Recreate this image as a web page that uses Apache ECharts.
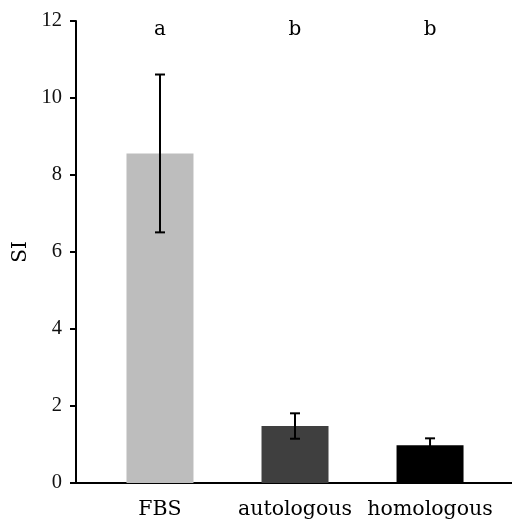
<!DOCTYPE html>
<html><head><meta charset="utf-8">
<script src="https://cdn.jsdelivr.net/npm/echarts@6/dist/echarts.min.js"></script>
<style>html,body{margin:0;padding:0;background:#fff}#c{width:512px;height:522px}</style>
</head><body><div id="c"></div>
<script>
var categories = ['FBS', 'autologous', 'homologous'];
var means = [8.56, 1.48, 0.98];
var errors = [2.05, 0.33, 0.18];
var letters = ['a', 'b', 'b'];
var letterY = 11.77;
var colors = ['#bdbdbd', '#3f3f3f', '#000000'];
var yTicks = [0, 2, 4, 6, 8, 10, 12];

var FONT = '"DejaVu Serif", "Liberation Serif", serif';
var NUMFONT = '"Liberation Serif", "DejaVu Serif", serif';
var chart = echarts.init(document.getElementById('c'));
var barData = categories.map(function (c, i) {
  return { value: [i, means[i]], itemStyle: { color: colors[i] } };
});
var errData = categories.map(function (c, i) { return [i, means[i] - errors[i], means[i] + errors[i]]; });
var letterData = letters.map(function (l, i) { return [i, letterY, l]; });

chart.setOption({
  animation: false,
  grid: { left: 76, right: 0, top: 21, bottom: 39 },
  xAxis: {
    type: 'value', min: -0.622, max: 2.607,
    splitLine: { show: false },
    axisLine: { show: true, onZero: false, lineStyle: { color: '#000', width: 2 } },
    axisTick: { show: false },
    axisLabel: {
      customValues: [0, 1, 2],
      formatter: function (v) { return categories[Math.round(v)]; },
      color: '#000', fontFamily: FONT, fontSize: 20.5, margin: 16,
      showMinLabel: true, showMaxLabel: true
    }
  },
  yAxis: {
    type: 'value', min: 0, max: 12, interval: 2,
    name: 'SI', nameLocation: 'middle', nameGap: 44,
    nameTextStyle: { color: '#000', fontFamily: FONT, fontSize: 20 },
    splitLine: { show: false },
    axisLine: { show: true, onZero: false, lineStyle: { color: '#000', width: 2 } },
    axisTick: { show: true, inside: false, length: 6, lineStyle: { color: '#000', width: 2 } },
    axisLabel: { color: '#111', fontFamily: NUMFONT, fontSize: 20.5, margin: 14,
      formatter: function (v) { return yTicks.indexOf(v) >= 0 ? String(v) : ''; } }
  },
  series: [
    { type: 'bar', data: barData, barWidth: 67 },
    {
      type: 'custom', data: errData, z: 5,
      renderItem: function (params, api) {
        var x = api.value(0);
        var lo = api.coord([x, api.value(1)]);
        var hi = api.coord([x, api.value(2)]);
        var hw = 5;
        var st = { stroke: '#000', lineWidth: 2 };
        return { type: 'group', children: [
          { type: 'line', shape: { x1: hi[0], y1: hi[1], x2: lo[0], y2: lo[1] }, style: st },
          { type: 'line', shape: { x1: hi[0] - hw, y1: hi[1], x2: hi[0] + hw, y2: hi[1] }, style: st },
          { type: 'line', shape: { x1: lo[0] - hw, y1: lo[1], x2: lo[0] + hw, y2: lo[1] }, style: st }
        ]};
      }
    },
    {
      type: 'scatter', data: letterData, symbolSize: 0,
      itemStyle: { opacity: 1 },
      label: { show: true, position: 'inside', formatter: function (p) { return p.value[2]; },
        color: '#000', opacity: 1, fontFamily: FONT, fontSize: 20 }
    }
  ]
});
</script></body></html>
